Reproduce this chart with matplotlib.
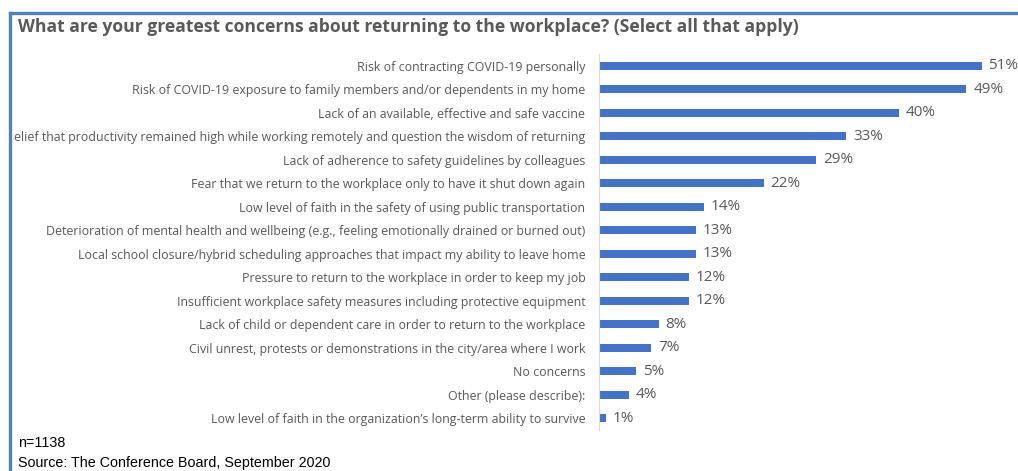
import matplotlib.pyplot as plt
from matplotlib.lines import Line2D
from matplotlib.patches import Rectangle

concerns = [
    "Risk of contracting COVID-19 personally",
    "Risk of COVID-19 exposure to family members and/or dependents in my home",
    "Lack of an available, effective and safe vaccine",
    "Belief that productivity remained high while working remotely and question the wisdom of returning",
    "Lack of adherence to safety guidelines by colleagues",
    "Fear that we return to the workplace only to have it shut down again",
    "Low level of faith in the safety of using public transportation",
    "Deterioration of mental health and wellbeing (e.g., feeling emotionally drained or burned out)",
    "Local school closure/hybrid scheduling approaches that impact my ability to leave home",
    "Pressure to return to the workplace in order to keep my job",
    "Insufficient workplace safety measures including protective equipment",
    "Lack of child or dependent care in order to return to the workplace",
    "Civil unrest, protests or demonstrations in the city/area where I work",
    "No concerns",
    "Other (please describe):",
    "Low level of faith in the organization\u2019s long-term ability to survive",
]
shares = [51, 49, 40, 33, 29, 22, 14, 13, 13, 12, 12, 8, 7, 5, 4, 1]

title = "What are your greatest concerns about returning to the workplace? (Select all that apply)"
note_n = "n=1138"
note_src = "Source: The Conference Board, September 2020"

W, H = 1018, 471
fig = plt.figure(figsize=(W / 100, H / 100), dpi=100)

# axes placed in pixel terms: zero line at x~598, rows from y~54 to y~430
x0, x1 = 598.5, 1018
y_top, y_bot = 54.25, 429.75
ax = fig.add_axes([x0 / W, 1 - y_bot / H, (x1 - x0) / W, (y_bot - y_top) / H])
px_per_pct = 7.51
ax.set_xlim(0, (x1 - x0) / px_per_pct)
ax.set_ylim(len(concerns) - 0.5, -0.5)

pos = list(range(len(concerns)))
ax.barh(pos, shares, height=0.34, color="#4472C4")
for p, v in zip(pos, shares):
    ax.text(v + 0.9, p, f"{v}%", va="center", ha="left",
            fontsize=11, color="#595959", family="Open Sans")

ax.set_yticks(pos)
ax.set_yticklabels(concerns, fontsize=8.9, color="#595959", family="Open Sans")
ax.tick_params(axis="y", length=0, pad=9.5)
ax.set_xticks([])
for s in ["top", "right", "bottom"]:
    ax.spines[s].set_visible(False)
ax.spines["left"].set_color("#D9D9D9")
ax.spines["left"].set_linewidth(0.8)

fig.text(18 / W, 1 - 27 / H, title, fontsize=12.6, fontweight="bold",
         color="#595959", family="Open Sans", va="center", ha="left")
fig.text(18 / W, 1 - 443 / H, note_n, fontsize=10.3, color="black",
         family="Liberation Sans", va="center", ha="left")
fig.text(18 / W, 1 - 463 / H, note_src, fontsize=10.3, color="black",
         family="Liberation Sans", va="center", ha="left")

# long labels get cut off at the frame edge
fig.add_artist(Rectangle((0, 0), 12.5 / W, 1, transform=fig.transFigure,
                         facecolor="white", edgecolor="none", zorder=5))

# frame lines along the top and left edges
border = "#4F81BD"
fig.add_artist(Line2D([10 / W, 1], [1 - 13 / H, 1 - 13 / H], color=border, lw=2.4, zorder=6))
fig.add_artist(Line2D([10 / W, 10 / W], [0, 1 - 13 / H], color=border, lw=2.4, zorder=6))

fig.savefig("out.png", dpi=100)
